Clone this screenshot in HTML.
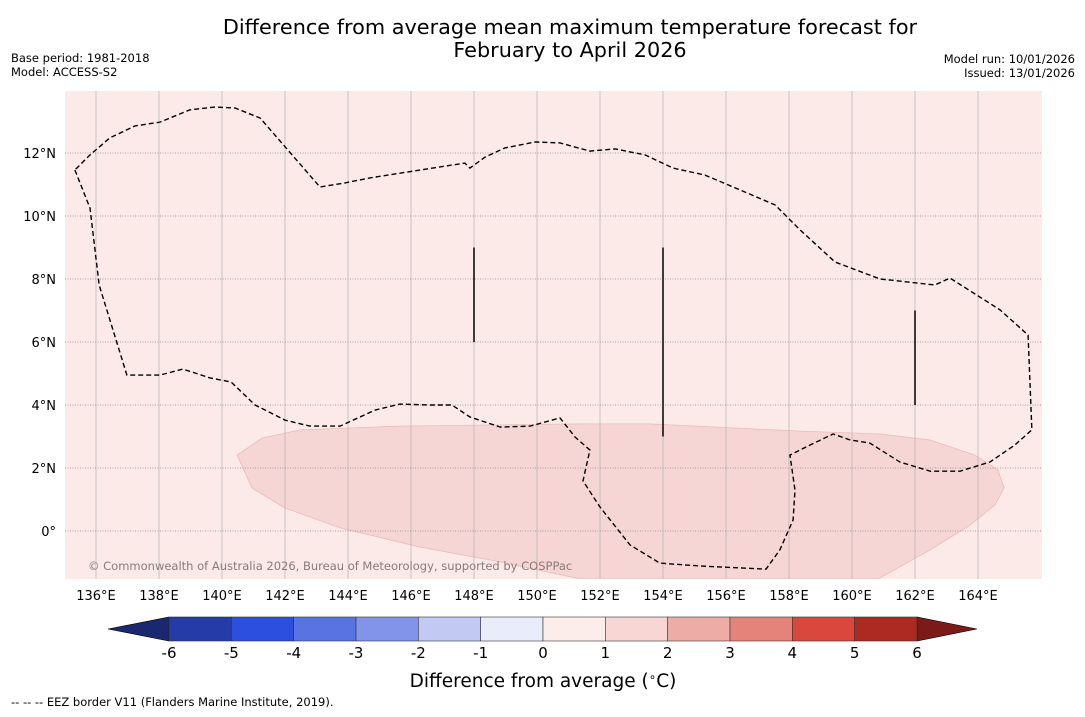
<!DOCTYPE html>
<html><head><meta charset="utf-8"><style>
body{margin:0;background:#fff;width:1085px;height:713px;overflow:hidden;font-family:"DejaVu Sans","Liberation Sans",sans-serif}
</style></head><body>
<svg id="s" width="1085" height="713" xmlns="http://www.w3.org/2000/svg">
<text x="570" y="34" font-size="20.8" text-anchor="middle">Difference from average mean maximum temperature forecast for</text>
<text x="570" y="57" font-size="20.8" text-anchor="middle">February to April 2026</text>
<text x="11" y="62" font-size="11.5">Base period: 1981-2018</text>
<text x="11" y="76" font-size="11.5">Model: ACCESS-S2</text>
<text x="1075" y="63" font-size="11.5" text-anchor="end">Model run: 10/01/2026</text>
<text x="1075" y="77" font-size="11.5" text-anchor="end">Issued: 13/01/2026</text>
<g id="map"></g>
<g id="cbar"></g>
<text x="543" y="687" font-size="18.5" text-anchor="middle">Difference from average (<tspan font-size="12" dy="-6">∘</tspan><tspan dy="6">C)</tspan></text>
<text x="11" y="706" font-size="11.5">--  --  -- EEZ border V11 (Flanders Marine Institute, 2019).</text>
</svg>
<script>
const lonTicks=[136,138,140,142,144,146,148,150,152,154,156,158,160,162,164];
const latTicks=[0,2,4,6,8,10,12];
const levels=[-6,-5,-4,-3,-2,-1,0,1,2,3,4,5,6];
const levelColors=["#253ba8","#2d4fdf","#5a73e3","#8194e9","#c2c9f3","#e9ecfa","#fcecea","#f7d6d3","#edaca5","#e5827a","#d9473d","#ad2a23"];
const eezPx=[[75,170],[90,208],[99,285],[127,375],[160,375],[183,369],[210,378],[231,382],[255,405],[285,420],[310,426],[340,426],[375,410],[400,404],[430,405],[452,405],[470,417],[500,427],[530,426],[560,418],[575,437],[590,450],[583,481],[600,507],[630,545],[660,563],[700,566],[766,569],[780,550],[793,520],[795,490],[790,455],[810,445],[833,434],[850,440],[870,443],[900,462],[930,471],[960,471],[990,462],[1015,445],[1032,430],[1028,335],[1000,310],[950,278],[935,285],[880,279],[835,262],[800,230],[775,205],[740,190],[705,175],[673,168],[645,155],[615,149],[590,151],[560,143],[535,142],[505,148],[485,157],[470,168],[465,163],[420,170],[370,178],[345,183],[320,187],[260,118],[235,108],[215,107],[190,110],[160,122],[135,126],[110,138],[90,155],[75,170]];
const anomPx=[[237,455],[262,438],[300,430],[400,426],[580,424],[650,424],[800,431],[880,434],[930,440],[975,455],[998,470],[1004,488],[995,505],[970,525],[930,550],[878,579],[580,579],[500,562],[420,547],[340,528],[285,508],[252,488]];
const segLon=[148,154,162];const segLat1=[9,9,7];const segLat2=[6,3,4];
const eezLon=eezPx.map(p=>+(135+(p[0]-64.5)/31.5).toFixed(2)), eezLat=eezPx.map(p=>+((531-p[1])/31.5).toFixed(2));
const anomLon=anomPx.map(p=>+(135+(p[0]-64.5)/31.5).toFixed(2)), anomLat=anomPx.map(p=>+((531-p[1])/31.5).toFixed(2));
const L=65,T=91,R=1042,B=579;
const X=lon=>64.5+(lon-135)*31.5, Y=lat=>531-lat*31.5;
const NS="http://www.w3.org/2000/svg";
function mk(t,a,p){const e=document.createElementNS(NS,t);for(const k in a)e.setAttribute(k,a[k]);p.appendChild(e);return e;}
const map=document.getElementById('map');
let r=mk('rect',{x:L,y:T,width:R-L,height:B-T,fill:'#fbeae8'},map);

const cp=mk('clipPath',{id:'cp'},map);mk('rect',{x:L,y:T,width:R-L,height:B-T},cp);
const g=mk('g',{'clip-path':'url(#cp)'},map);
let a=mk('polygon',{points:anomLon.map((v,i)=>X(v)+','+Y(anomLat[i])).join(' '),fill:'#f6d6d4',stroke:'#e8bdb9','stroke-width':0.8},g);

lonTicks.forEach(v=>{let l=mk('line',{x1:X(v),x2:X(v),y1:T,y2:B,stroke:'#aaa','stroke-width':0.6},g);

let t=mk('text',{x:X(v),y:600,'font-size':13,'text-anchor':'middle'},document.getElementById('s'));t.textContent=v+'°E';
});
latTicks.forEach(v=>{let l=mk('line',{x1:L,x2:R,y1:Y(v),y2:Y(v),stroke:'#888','stroke-width':0.8,'stroke-dasharray':'1,1.5'},g);

let t=mk('text',{x:56,y:Y(v)+5,'font-size':13,'text-anchor':'end'},document.getElementById('s'));t.textContent=v===0?'0°':v+'°N';
});
let e=mk('polyline',{points:eezLon.map((v,i)=>X(v)+','+Y(eezLat[i])).join(' '),fill:'none',stroke:'#000','stroke-width':1.4,'stroke-dasharray':'5,3'},g);

segLon.forEach((v,i)=>{let l=mk('line',{x1:X(v),x2:X(v),y1:Y(segLat1[i]),y2:Y(segLat2[i]),stroke:'#000','stroke-width':1.5},g);
});
let c=mk('text',{x:88,y:570,'font-size':11.5,fill:'#8a7a7a'},g);c.textContent='© Commonwealth of Australia 2026, Bureau of Meteorology, supported by COSPPac';

const cb=document.getElementById('cbar');const CX=v=>543+v*62.33, cy0=617, cy1=641;
let lt=mk('polygon',{points:`108,629 ${CX(-6)},${cy0} ${CX(-6)},${cy1}`,fill:'#1a2870',stroke:'#000','stroke-width':0.6},cb);

let rt=mk('polygon',{points:`977,629 ${CX(6)},${cy0} ${CX(6)},${cy1}`,fill:'#7a1b17',stroke:'#000','stroke-width':0.6},cb);

levelColors.forEach((col,i)=>{let s=mk('rect',{x:CX(levels[i]),y:cy0,width:CX(levels[i+1])-CX(levels[i]),height:cy1-cy0,fill:col,stroke:'#333','stroke-width':0.6},cb);
});
levels.forEach(v=>{let t=mk('text',{x:CX(v),y:658,'font-size':15,'text-anchor':'middle'},cb);t.textContent=v;
});
</script>
</body></html>
